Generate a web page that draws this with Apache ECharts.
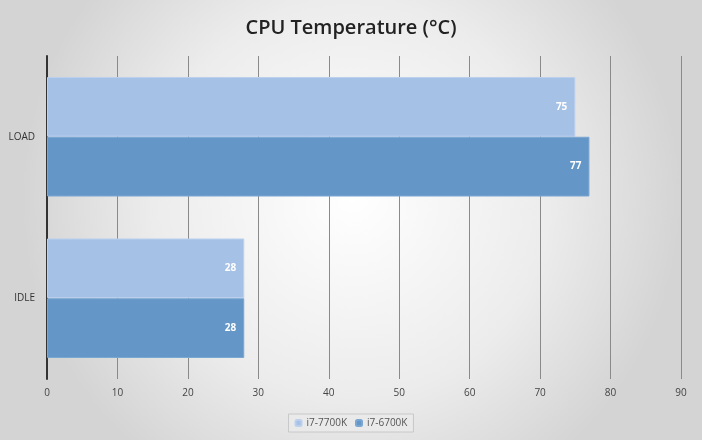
<!DOCTYPE html>
<html>
<head>
<meta charset="utf-8">
<script src="https://cdn.jsdelivr.net/npm/echarts@6/dist/echarts.min.js"></script>
<style>
  html, body { margin: 0; padding: 0; }
  #container-temp { width: 702px; height: 440px; }
</style>
</head>
<body>
<div id="container-temp"></div>
<script>
var categories = ['IDLE', 'LOAD'];
var seriesNames = ['i7-7700K', 'i7-6700K'];
var temp7700 = [28, 75];
var temp6700 = [28, 77];
var xTicks = [0, 90, 10];

var dom = document.getElementById('container-temp');
var myChart = echarts.init(dom);
var option = {
  backgroundColor: new echarts.graphic.RadialGradient(0.5, 0.45, 0.75, [
    {offset: 0, color: '#ffffff'},
    {offset: 0.6, color: '#ececec'},
    {offset: 1, color: '#d4d4d4'}
  ]),
  title: {
    text: 'CPU Temperature (°C)',
    left: 'center',
    top: 13,
    textStyle: {
      fontFamily: 'Open Sans',
      fontSize: 20,
      fontWeight: 600,
      color: '#222'
    }
  },
  legend: {
    data: seriesNames,
    bottom: 8,
    left: 'center',
    itemWidth: 6,
    itemHeight: 6,
    itemGap: 8,
    padding: [4, 6],
    backgroundColor: 'rgba(235,235,235,0.7)',
    borderColor: '#c8c8c8',
    borderWidth: 1,
    textStyle: {fontFamily: 'Open Sans', fontSize: 10, color: '#555'}
  },
  grid: {
    left: 47,
    right: 21,
    top: 56,
    bottom: 61,
    containLabel: false
  },
  xAxis: {
    type: 'value',
    min: xTicks[0],
    max: xTicks[1],
    interval: xTicks[2],
    axisLine: {show: false},
    axisTick: {show: false},
    axisLabel: {fontFamily: 'Open Sans', fontSize: 10, color: '#444', margin: 9},
    splitLine: {show: true, lineStyle: {color: '#8a8a8a', width: 1}}
  },
  yAxis: {
    type: 'category',
    data: categories,
    axisLine: {show: true, lineStyle: {color: '#333', width: 2}},
    axisTick: {show: false},
    axisLabel: {fontFamily: 'Open Sans', fontSize: 10, color: '#333', margin: 12}
  },
  series: [
    {
      name: seriesNames[0],
      type: 'bar',
      data: temp7700,
      barGap: '0%',
      barCategoryGap: '26%',
      itemStyle: {color: '#a6c1e6', borderColor: '#bcd0ee', borderWidth: 1},
      label: {show: true, position: 'insideRight', color: '#fff', fontWeight: 'bold', fontSize: 10, fontFamily: 'Open Sans', distance: 8}
    },
    {
      name: seriesNames[1],
      type: 'bar',
      data: temp6700,
      barGap: '0%',
      barCategoryGap: '26%',
      itemStyle: {color: '#6496c7', borderColor: '#7aa6d2', borderWidth: 1},
      label: {show: true, position: 'insideRight', color: '#fff', fontWeight: 'bold', fontSize: 10, fontFamily: 'Open Sans', distance: 8}
    }
  ]
};
if (option && typeof option === "object") {
  myChart.setOption(option, true);
}
</script>
</body>
</html>
